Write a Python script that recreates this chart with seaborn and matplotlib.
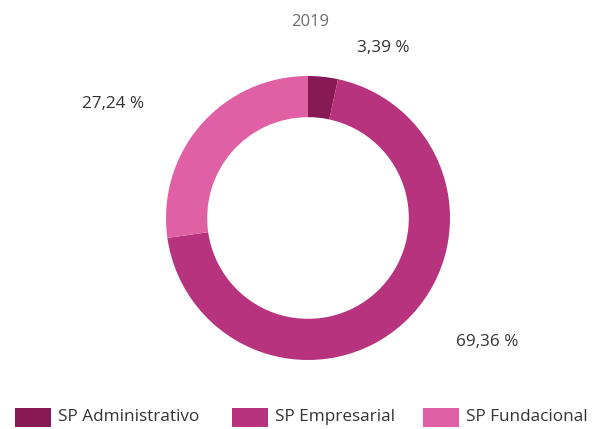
import matplotlib
matplotlib.use("Agg")
import matplotlib.pyplot as plt
import seaborn as sns
from matplotlib.patches import Rectangle

sns.set_theme(style="white")
plt.rcParams["font.family"] = ["Open Sans", "DejaVu Sans"]

# Share of each segment, 2019
categories = ["SP Administrativo", "SP Empresarial", "SP Fundacional"]
shares = [3.39, 69.36, 27.24]
labels = ["3,39 %", "69,36 %", "27,24 %"]
year = "2019"
colors = ["#861A56", "#B7337E", "#E060A6"]

W, H = 593, 429
fig = plt.figure(figsize=(W / 100, H / 100), dpi=100)

def fx(px):
    return px / W

def fy(py):
    return 1 - py / H

cx, cy, r = 308, 218, 142
ax = fig.add_axes([fx(cx - r), fy(cy + r), 2 * r / W, 2 * r / H])
ax.pie(shares, colors=colors, startangle=90, counterclock=False,
       radius=1.0, wedgeprops=dict(width=0.29, linewidth=0))
ax.set_xlim(-1, 1)
ax.set_ylim(-1, 1)
ax.set_aspect("equal")
ax.axis("off")

fig.text(fx(310), fy(22), year, ha="center", va="center",
         fontsize=12, color="#6b6b6b")

label_pos = [(383, 48), (487, 342), (113, 104)]
for (px, py), txt in zip(label_pos, labels):
    fig.text(fx(px), fy(py), txt, ha="center", va="center",
             fontsize=12.3, color="#333333")

# Legend row along the bottom
legend_x = [15, 232, 423]
sw_w, sw_h, leg_y = 36, 19, 417
for x0, c, name in zip(legend_x, colors, categories):
    fig.add_artist(Rectangle((fx(x0), fy(leg_y + sw_h / 2)), sw_w / W, sw_h / H,
                             transform=fig.transFigure, facecolor=c,
                             edgecolor="none"))
    fig.text(fx(x0 + sw_w + 7), fy(leg_y), name, ha="left", va="center",
             fontsize=12.3, color="#333333")

fig.savefig("out.png", dpi=100, facecolor="white")
